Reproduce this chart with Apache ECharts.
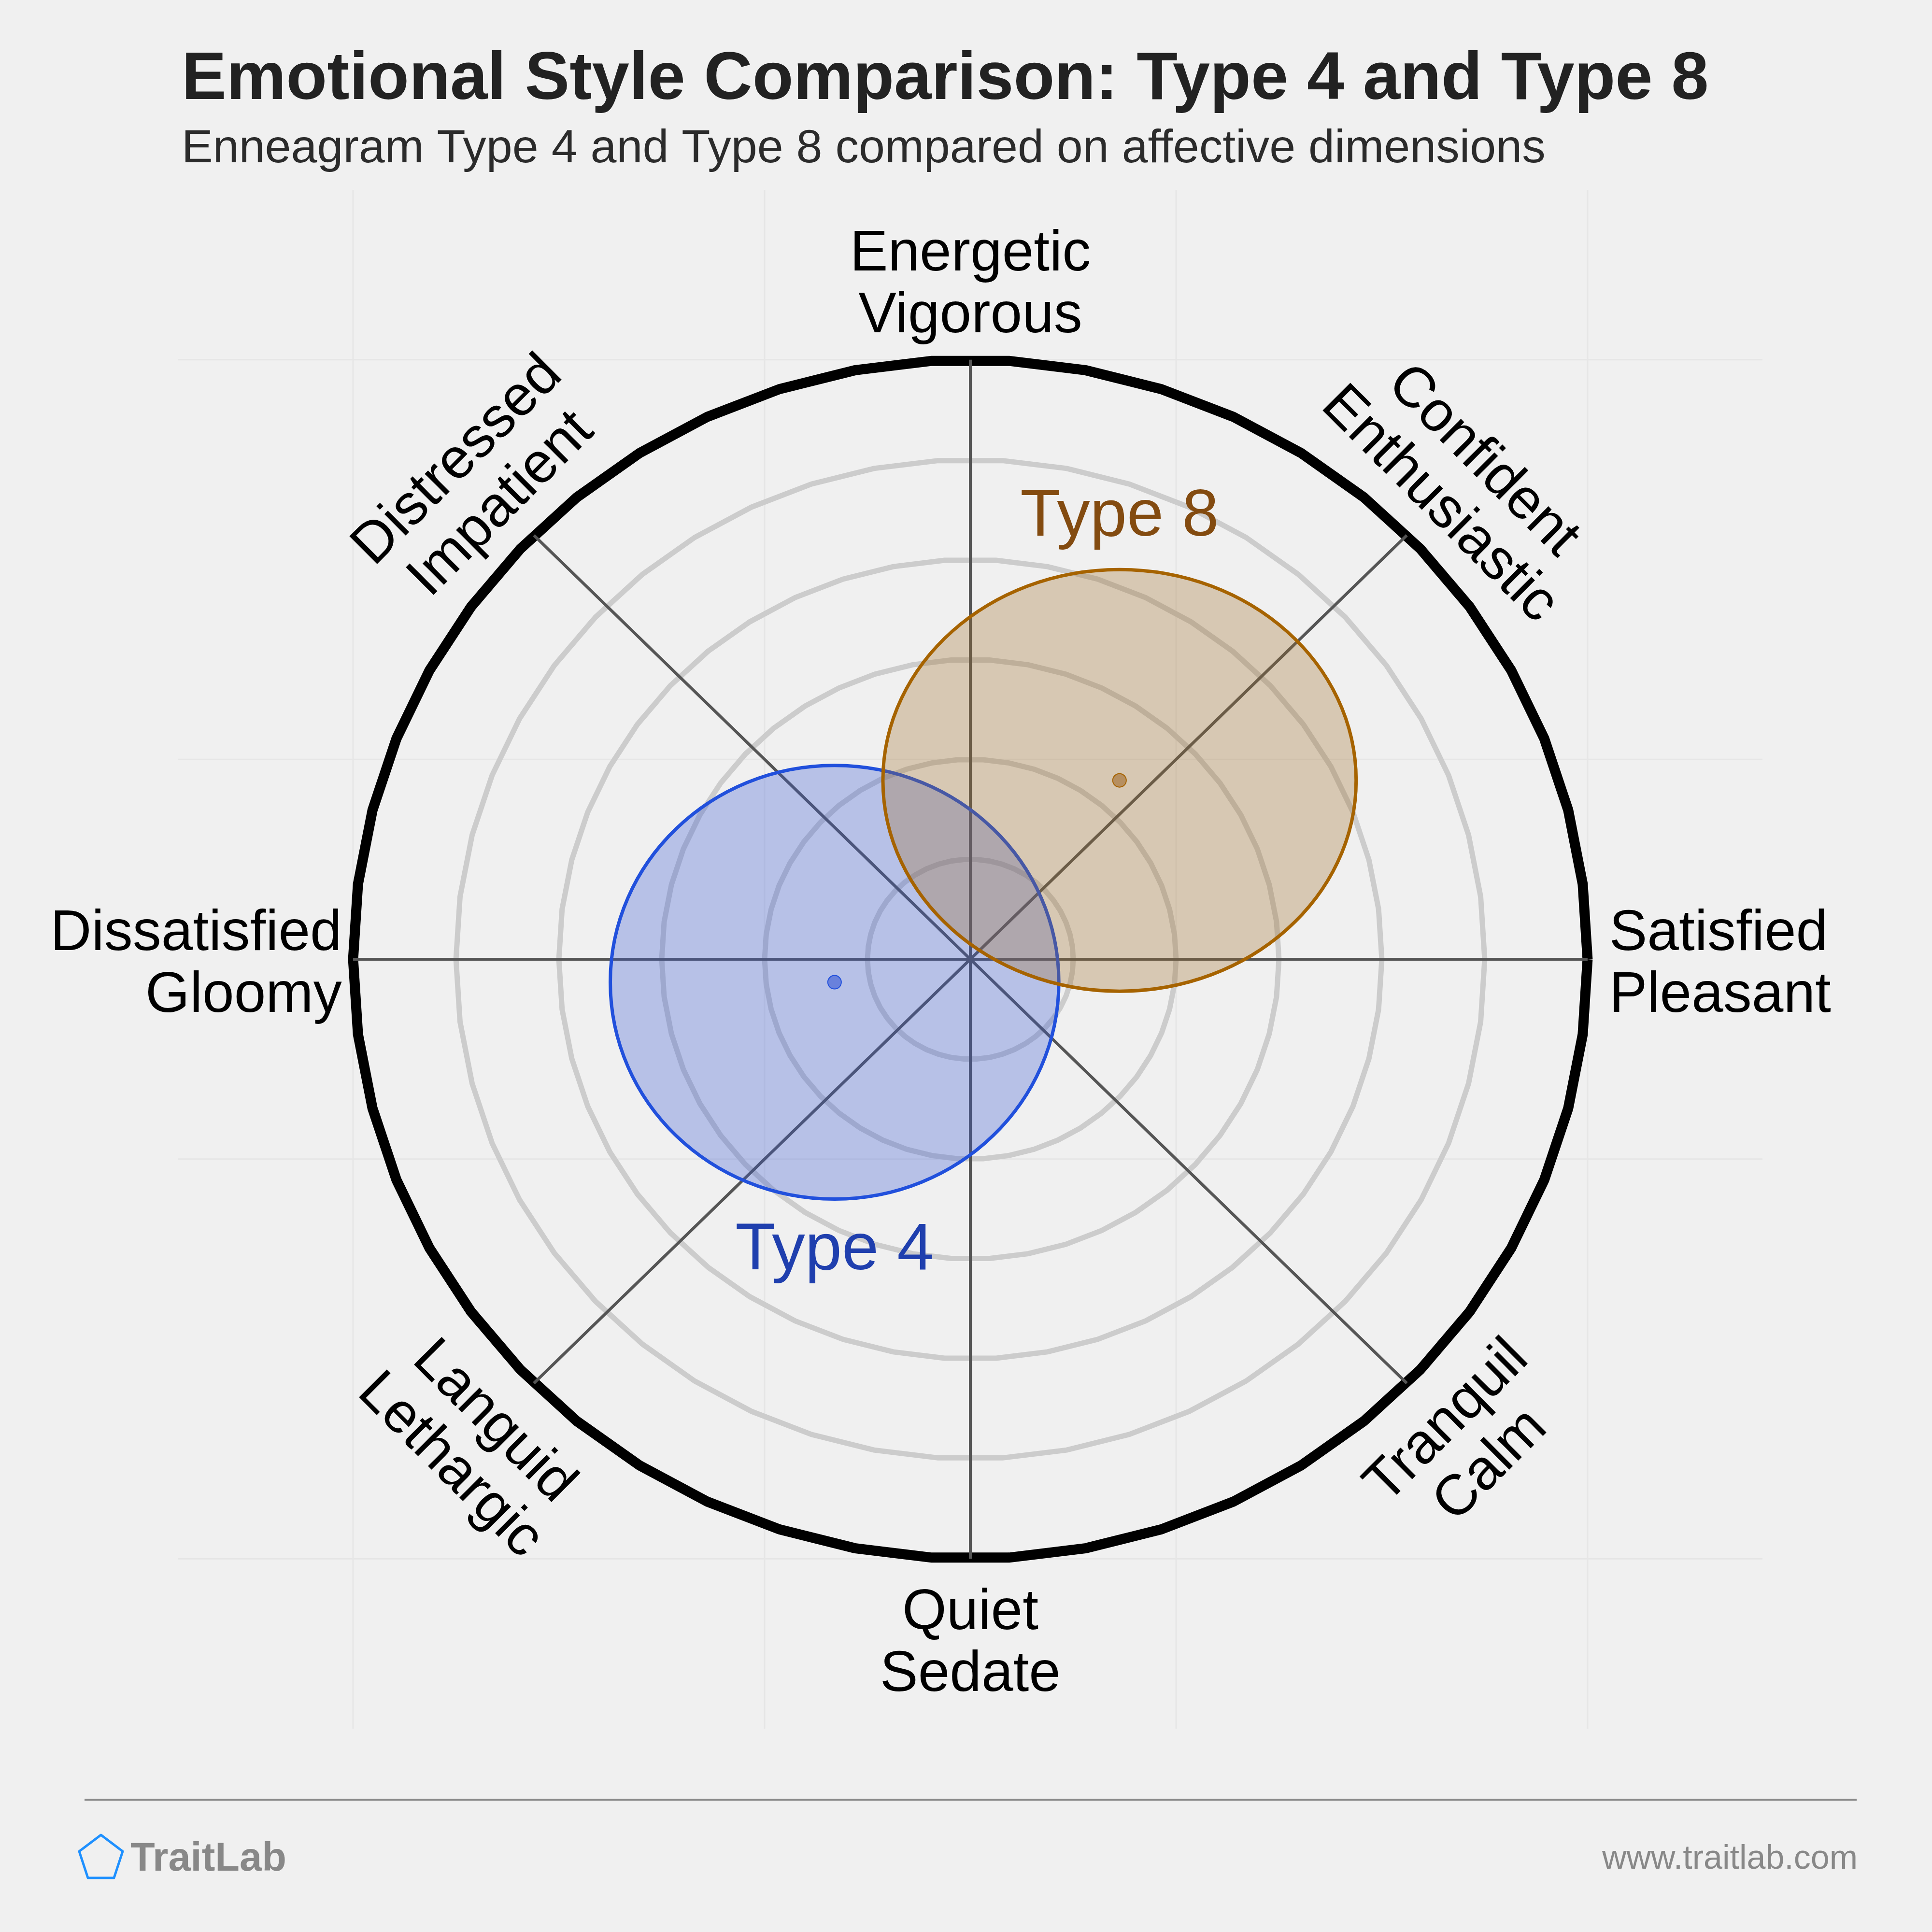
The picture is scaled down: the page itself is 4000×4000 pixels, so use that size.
<!DOCTYPE html>
<html lang="en">
<head>
<meta charset="utf-8">
<title>Emotional Style Comparison: Type 4 and Type 8</title>
<script src="https://cdn.jsdelivr.net/npm/echarts@6/dist/echarts.min.js"></script>
<style>
  html, body { margin: 0; padding: 0; background: #f0f0f0; }
  #panel { width: 4000px; height: 4000px; }
</style>
</head>
<body>
<div id="panel"></div>
<script>
// affective dimensions, counter-clockwise starting from the right
const dimAngles = [0, 45, 90, 135, 180, 225, 270, 315];
const dimLabels = ['Satisfied\nPleasant', 'Confident\nEnthusiastic', 'Energetic\nVigorous', 'Distressed\nImpatient',
  'Dissatisfied\nGloomy', 'Languid\nLethargic', 'Quiet\nSedate', 'Tranquil\nCalm'];
const ringRadii = [1, 2, 3, 4, 5, 6];
const gridTicks = [-6, -2, 2, 6];

// the two types: centre and spread
const typeNames = ['Type 4', 'Type 8'];
const typeX = [-1.32, 1.45];
const typeY = [-0.23, 1.79];
const typeRx = [2.18, 2.30];
const typeRy = [2.17, 2.11];

const FONT = '"Liberation Sans", Arial, Helvetica, sans-serif';
const typeStyle = [
  { fill: 'rgba(53,87,213,0.3)', stroke: '#2150dc', text: '#1f3fae', dot: 'rgba(53,87,213,0.6)', side: -1 },
  { fill: 'rgba(160,110,40,0.3)', stroke: '#a66300', text: '#834b10', dot: 'rgba(160,105,40,0.6)', side: 1 }
];
const OUTER = ringRadii[ringRadii.length - 1];

const panel = echarts.init(document.getElementById('panel'));

// faint background grid
function gridItem(params, api) {
  const t = api.value(0);
  const vertical = api.value(1) === 0;
  const a = vertical ? api.coord([t, -7.7]) : api.coord([-7.7, t]);
  const b = vertical ? api.coord([t, 7.7]) : api.coord([7.7, t]);
  return { type: 'line', shape: { x1: a[0], y1: a[1], x2: b[0], y2: b[1] },
    style: { stroke: '#e6e6e6', lineWidth: 3 } };
}

// concentric rings, drawn as 50-sided polygons in data space
function ringItem(params, api) {
  const r = api.value(0);
  const pts = [];
  for (let k = 0; k <= 50; k++) {
    const a = k / 50 * Math.PI * 2;
    pts.push(api.coord([r * Math.cos(a), r * Math.sin(a)]));
  }
  const outer = r === OUTER;
  return { type: 'polyline', shape: { points: pts },
    style: { stroke: outer ? '#000' : '#cccccc', lineWidth: outer ? 21 : 11, fill: null, lineJoin: 'miter' } };
}

// spokes from centre to outer ring
function spokeItem(params, api) {
  const rad = api.value(0) * Math.PI / 180;
  const a = api.coord([0, 0]);
  const b = api.coord([OUTER * Math.cos(rad), OUTER * Math.sin(rad)]);
  return { type: 'line', shape: { x1: a[0], y1: a[1], x2: b[0], y2: b[1] },
    style: { stroke: '#555555', lineWidth: 6 } };
}

// dimension labels round the outside
function dimLabelItem(params, api) {
  const i = params.dataIndex;
  const ang = api.value(0);
  const rad = ang * Math.PI / 180;
  let r = 6.8;
  if (ang === 0) r = 6.21;
  if (ang === 180) r = 6.11;
  const p = api.coord([r * Math.cos(rad), r * Math.sin(rad)]);
  let rot = 0;
  if (ang % 90 !== 0) rot = (ang === 45 || ang === 225) ? -Math.PI / 4 : Math.PI / 4;
  return {
    type: 'text', x: p[0], y: p[1], rotation: rot,
    style: {
      text: dimLabels[i], x: 0, y: 12, fill: '#000', fontSize: 118, fontFamily: FONT, lineHeight: 128,
      align: ang === 0 ? 'left' : (ang === 180 ? 'right' : 'center'), verticalAlign: 'middle'
    }
  };
}

// type ellipses
function blobItem(params, api) {
  const st = typeStyle[params.dataIndex];
  const c = api.coord([api.value(0), api.value(1)]);
  const s = api.size([api.value(2), api.value(3)]);
  return { type: 'ellipse', shape: { cx: c[0], cy: c[1], rx: s[0], ry: s[1] },
    style: { fill: st.fill, stroke: st.stroke, lineWidth: 7 } };
}

// type names just outside each ellipse
function typeLabelItem(params, api) {
  const i = params.dataIndex;
  const st = typeStyle[i];
  const p = api.coord([api.value(0), api.value(1) + st.side * (api.value(3) + 0.52)]);
  return { type: 'text', x: p[0], y: p[1],
    style: { text: typeNames[i], fill: st.text, fontSize: 137, fontFamily: FONT, align: 'center', verticalAlign: 'middle' } };
}

const typeData = typeNames.map((n, i) => [typeX[i], typeY[i], typeRx[i], typeRy[i]]);

const option = {
  backgroundColor: '#f0f0f0',
  animation: false,
  title: [
    { text: 'Emotional Style Comparison: Type 4 and Type 8', left: 376, top: 97, padding: 0,
      textStyle: { fontFamily: FONT, fontSize: 139, fontWeight: 'bold', color: '#222222', lineHeight: 139 } },
    { text: 'Enneagram Type 4 and Type 8 compared on affective dimensions', left: 376, top: 261, padding: 0,
      textStyle: { fontFamily: FONT, fontSize: 97, fontWeight: 'normal', color: '#2b2b2b', lineHeight: 97 } }
  ],
  grid: { left: 369, top: 393, width: 3280, height: 3186, show: false },
  xAxis: { type: 'value', min: -7.7, max: 7.7, show: false },
  yAxis: { type: 'value', min: -7.7, max: 7.7, show: false },
  graphic: [
    { type: 'line', shape: { x1: 175, y1: 3726, x2: 3844, y2: 3726 }, style: { stroke: '#888888', lineWidth: 4 } },
    { type: 'polygon', shape: { points: [[209, 3799], [254, 3833], [236, 3888], [182, 3888], [164, 3833]] },
      style: { fill: null, stroke: '#1e90ff', lineWidth: 5, lineJoin: 'round' } },
    { type: 'text', x: 270, y: 3850, style: { text: 'TraitLab', fill: '#888888', fontSize: 83, fontWeight: 'bold',
      fontFamily: FONT, align: 'left', verticalAlign: 'middle' } },
    { type: 'text', x: 3846, y: 3850, style: { text: 'www.traitlab.com', fill: '#888888', fontSize: 70,
      fontFamily: FONT, align: 'right', verticalAlign: 'middle' } }
  ],
  series: [
    { type: 'custom', coordinateSystem: 'cartesian2d', silent: true, clip: false, z: 1,
      data: gridTicks.map(t => [t, 0]).concat(gridTicks.map(t => [t, 1])), renderItem: gridItem },
    { type: 'custom', coordinateSystem: 'cartesian2d', silent: true, clip: false, z: 2,
      data: ringRadii.map(r => [r, 0]), renderItem: ringItem },
    { type: 'custom', coordinateSystem: 'cartesian2d', silent: true, clip: false, z: 3,
      data: dimAngles.map(a => [a, 0]), renderItem: spokeItem },
    { type: 'custom', coordinateSystem: 'cartesian2d', silent: true, clip: false, z: 4,
      data: typeData, renderItem: blobItem },
    { type: 'scatter', silent: true, z: 5, symbolSize: 28,
      data: typeNames.map((n, i) => ({ value: [typeX[i], typeY[i]],
        itemStyle: { color: typeStyle[i].dot, borderColor: typeStyle[i].stroke, borderWidth: 2, opacity: 1 } })) },
    { type: 'custom', coordinateSystem: 'cartesian2d', silent: true, clip: false, z: 6,
      data: typeData, renderItem: typeLabelItem },
    { type: 'custom', coordinateSystem: 'cartesian2d', silent: true, clip: false, z: 6,
      data: dimAngles.map(a => [a, 0]), renderItem: dimLabelItem }
  ]
};

panel.setOption(option);
</script>
</body>
</html>
